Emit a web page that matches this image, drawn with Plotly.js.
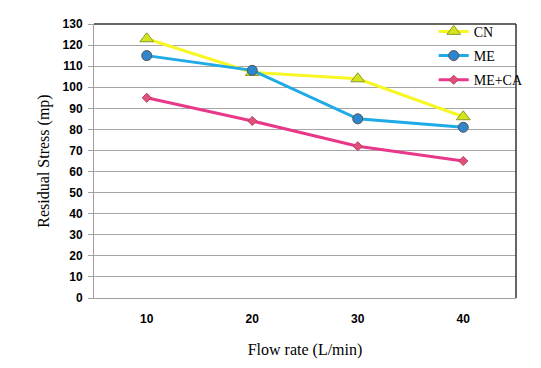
<!DOCTYPE html>
<html><head><meta charset="utf-8">
<script src="https://cdn.plot.ly/plotly-3.0.1.min.js"></script>
<style>html,body{margin:0;padding:0;background:#fff}#c{width:541px;height:368px}</style>
</head><body><div id="c"></div>
<script>
var flowRates = ['10','20','30','40'];
var cnValues = [123, 107, 104, 86];
var meValues = [115, 108, 85, 81];
var meCaValues = [95, 84, 72, 65];
var yTicks = [0,10,20,30,40,50,60,70,80,90,100,110,120,130];

var traces = [
  {x: flowRates, y: cnValues, name: 'CN', legendgroup: 'a', type: 'scatter', mode: 'lines+markers',
   line: {color: '#f7f723', width: 3},
   marker: {symbol: 'triangle-up', size: 12, color: '#d4e41c', line: {color: '#8a9a2a', width: 1}}},
  {x: flowRates, y: meValues, name: 'ME', legendgroup: 'b', type: 'scatter', mode: 'lines+markers',
   line: {color: '#1eaae4', width: 3},
   marker: {symbol: 'circle', size: 10, color: '#2e86cc', line: {color: '#555555', width: 1}}},
  {x: flowRates, y: meCaValues, name: 'ME+CA', legendgroup: 'c', type: 'scatter', mode: 'lines+markers',
   line: {color: '#e8388a', width: 3},
   marker: {symbol: 'diamond', size: 7, color: '#e0507a', line: {color: '#b04060', width: 1}}}
];

var layout = {
  width: 541, height: 368,
  margin: {l: 94, r: 25, t: 24, b: 70},
  paper_bgcolor: '#fff', plot_bgcolor: '#fff',
  showlegend: true,
  legend: {x: 0.805, y: 1.03, xanchor: 'left', yanchor: 'top', bgcolor: 'rgba(0,0,0,0)',
           font: {family: 'Liberation Serif, serif', size: 14, color: '#000'}, itemwidth: 30, tracegroupgap: 3},
  xaxis: {type: 'category', range: [-0.5, 3.5], showgrid: false, zeroline: false,
          showline: true, linecolor: '#a0a0a0', linewidth: 1, ticks: '',
          tickfont: {family: 'Liberation Sans, Arial, sans-serif', size: 12, color: '#000', weight: 'bold'},
          ticklabelstandoff: 10,
          title: {text: 'Flow rate (L/min)', font: {family: 'Liberation Serif, serif', size: 16, color: '#000'}, standoff: 18}},
  yaxis: {range: [0, 130], tickvals: yTicks, showgrid: true, gridcolor: '#a6a6a6', gridwidth: 1,
          zeroline: false, showline: true, linecolor: '#a0a0a0', linewidth: 1,
          ticks: 'outside', ticklen: 5, tickcolor: '#a0a0a0', ticklabelstandoff: 3,
          tickfont: {family: 'Liberation Sans, Arial, sans-serif', size: 12, color: '#000', weight: 'bold'},
          title: {text: 'Residual Stress (mp)', font: {family: 'Liberation Serif, serif', size: 16, color: '#000'}, standoff: 8}},
  shapes: [
    {type: 'line', xref: 'paper', yref: 'paper', x0: 0, x1: 1, y0: 1, y1: 1, line: {color: '#333', width: 1.5}},
    {type: 'line', xref: 'paper', yref: 'paper', x0: 1, x1: 1, y0: 0, y1: 1, line: {color: '#333', width: 1.5}}
  ]
};
Plotly.newPlot('c', traces, layout, {displayModeBar: false, staticPlot: true});
</script></body></html>
